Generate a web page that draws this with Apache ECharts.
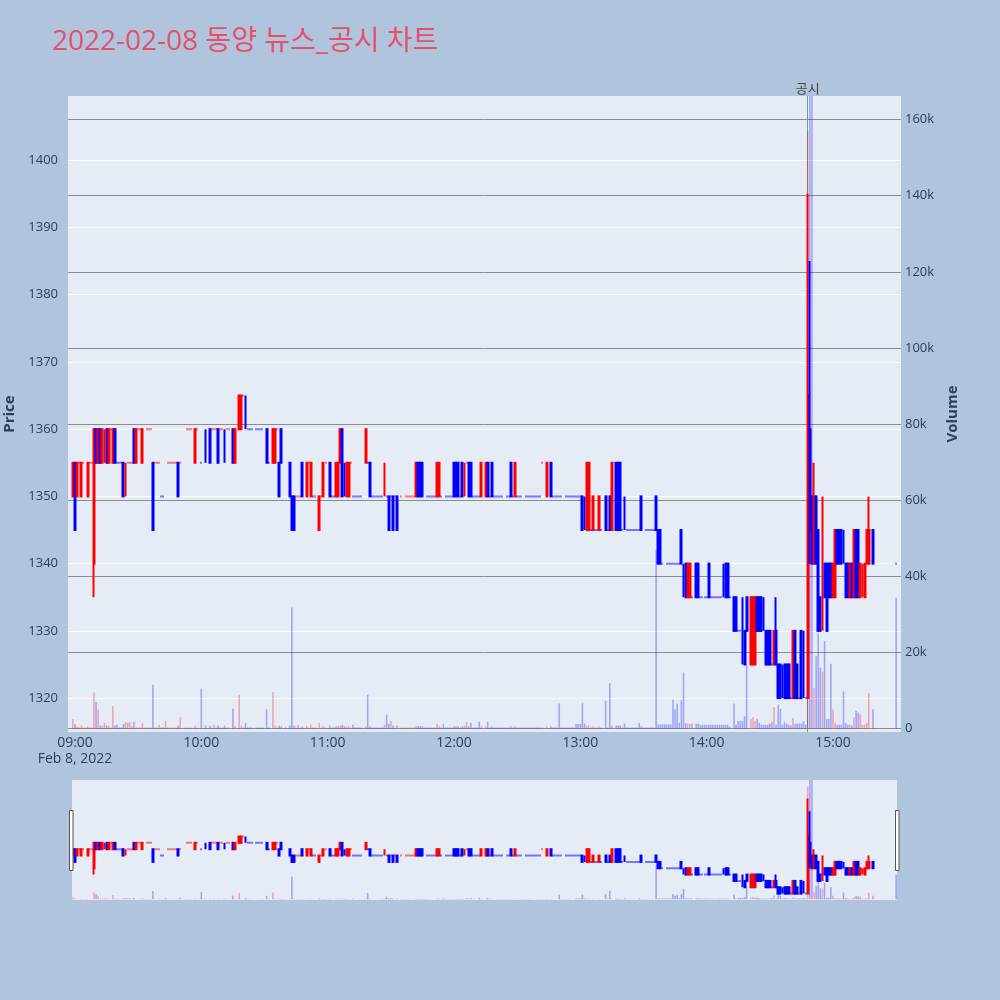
<!DOCTYPE html>
<html>
<head>
<meta charset="utf-8">
<script src="https://cdn.jsdelivr.net/npm/echarts@6/dist/echarts.min.js"></script>
<style>
html,body{margin:0;padding:0;background:#b0c4de;}
#chart{width:1000px;height:1000px;}
</style>
</head>
<body>
<div id="chart"></div>
<script>
// ---------------- DATA ----------------
const chartTitle = '2022-02-08 동양 뉴스_공시 차트';
const dateLabel = 'Feb 8, 2022';
// minutes after 09:00 (one candle per traded minute)
const minutes = [
  -1,0,1,2,3,4,5,6,7,8,9,10,11,12,13,14,15,16,
  17,18,19,20,21,22,23,24,25,26,27,28,29,30,31,32,33,34,35,36,
  37,38,39,40,41,42,43,44,45,46,47,48,49,50,52,53,54,55,57,58,
  60,62,64,65,66,67,68,69,70,71,72,73,75,76,78,79,80,81,82,83,84,
  86,87,88,89,91,92,94,95,96,97,98,100,102,103,104,105,106,107,108,
  110,111,112,113,114,116,117,118,119,121,122,123,124,125,126,127,128,129,130,131,132,133,134,135,136,
  138,139,140,141,142,143,144,145,146,147,148,149,150,151,152,153,155,156,157,158,159,160,161,162,163,164,165,166,
  167,168,169,170,171,172,173,174,175,176,177,178,179,180,181,182,183,184,185,186,187,188,189,190,191,192,193,195,196,197,198,
  199,200,201,202,203,204,205,206,207,208,209,210,211,212,213,214,215,216,217,218,219,220,221,222,224,226,227,228,229,230,231,232,233,234,235,236,237,238,239,240,
  241,242,243,244,245,246,247,248,249,250,252,253,254,255,257,258,259,260,261,262,263,264,265,266,267,268,269,270,271,272,273,274,275,276,277,278,279,280,281,282,283,284,285,286,287,288,289,290,
  291,292,293,295,296,297,298,299,300,301,302,303,304,305,306,307,308,309,310,311,313,314,315,316,317,318,319,321,322,323,324,325,326,327,328,329,330,331,332,333,334,335,336,337,338,339,340,341,342,343,344,345,346,347,
  348,349,350,351,352,353,354,355,356,357,358,359,360,361,362,363,364,365,366,367,368,369,370,371,372,373,374,375,376,377,379,390
];
const opens = [
  1350,1355,1350,1355,1350,1355,1355,1350,1355,1355,1340,1360,1355,1360,1355,1355,1360,1355,
  1360,1355,1360,1355,1355,1355,1355,1350,1355,1355,1355,1360,1355,1360,1360,1355,1360,1360,1360,1360,
  1355,1355,1355,1355,1350,1350,1355,1355,1355,1355,1355,1355,1355,1355,1360,1360,1360,1360,1355,1360,
  1355,1360,1360,1360,1360,1360,1360,1360,1360,1360,1360,1360,1360,1355,1360,1360,1365,1365,1360,1360,1360,
  1360,1360,1360,1360,1360,1355,1355,1355,1360,1355,1360,1355,1355,1350,1350,1350,1350,1350,1355,
  1350,1355,1350,1350,1350,1345,1350,1350,1355,1355,1350,1350,1350,1350,1355,1360,1355,1350,1350,1355,1350,1350,1350,1350,1350,
  1355,1355,1355,1350,1350,1350,1350,1350,1350,1350,1350,1350,1350,1350,1350,1350,1350,1350,1350,1350,1350,1350,1350,1350,1355,1355,1355,1350,
  1350,1350,1350,1350,1350,1350,1350,1350,1350,1350,1350,1350,1350,1355,1355,1355,1350,1355,1350,1355,1355,1355,1350,1350,1350,1350,1350,1350,1355,1350,1355,
  1350,1350,1350,1350,1350,1350,1350,1350,1355,1350,1350,1350,1350,1350,1350,1350,1350,1350,1350,1350,1350,1350,1350,1355,1350,1355,1350,1350,1350,1350,1350,1350,1350,1350,1350,1350,1350,1350,1350,1350,
  1350,1350,1345,1345,1345,1345,1345,1345,1345,1345,1350,1345,1350,1345,1355,1355,1355,1345,1350,1345,1345,1345,1345,1345,1345,1345,1350,1350,1345,1345,1345,1345,1345,1350,1345,1345,1340,1340,1340,1340,1340,1340,1340,1340,1340,1345,1340,1340,
  1335,1335,1335,1340,1340,1335,1335,1335,1335,1340,1335,1335,1335,1335,1335,1335,1340,1340,1340,1335,1335,1335,1330,1330,1335,1330,1335,1325,1325,1325,1335,1335,1335,1335,1330,1330,1330,1325,1325,1330,1325,1325,1325,1325,1325,1325,1320,1320,1330,1325,1320,1330,1330,1320,
  1320,1360,1350,1340,1350,1345,1335,1330,1340,1340,1340,1340,1335,1335,1345,1345,1345,1345,1340,1340,1335,1340,1335,1345,1345,1335,1335,1335,1340,1340,1345,1340
];
const closes = [
  1355,1345,1355,1355,1355,1355,1355,1355,1355,1355,1360,1355,1360,1355,1360,1360,1355,1360,
  1360,1360,1355,1355,1355,1355,1350,1355,1355,1355,1355,1355,1360,1360,1360,1360,1360,1360,1360,1360,
  1345,1355,1355,1355,1350,1350,1355,1355,1355,1355,1355,1355,1350,1355,1360,1360,1360,1360,1360,1360,
  1355,1355,1355,1360,1360,1360,1355,1360,1360,1355,1360,1360,1355,1360,1365,1365,1365,1360,1360,1360,1360,
  1360,1360,1360,1360,1355,1355,1360,1360,1360,1350,1355,1355,1350,1345,1345,1350,1350,1350,1350,
  1355,1355,1355,1350,1350,1350,1350,1355,1355,1350,1350,1350,1355,1355,1360,1350,1350,1355,1355,1355,1350,1350,1350,1350,1350,
  1360,1355,1350,1350,1350,1350,1350,1350,1350,1355,1350,1345,1350,1345,1350,1345,1350,1350,1350,1350,1350,1350,1350,1355,1350,1350,1350,1350,
  1350,1350,1350,1350,1350,1355,1355,1350,1350,1350,1350,1350,1350,1350,1350,1350,1350,1350,1355,1355,1350,1350,1350,1350,1350,1350,1355,1355,1350,1350,1350,
  1350,1350,1350,1350,1350,1350,1350,1350,1350,1350,1355,1350,1350,1350,1350,1350,1350,1350,1350,1350,1350,1350,1350,1355,1355,1350,1350,1350,1350,1350,1350,1350,1350,1350,1350,1350,1350,1350,1350,1350,
  1345,1345,1355,1355,1345,1350,1345,1345,1350,1345,1345,1345,1345,1355,1345,1345,1345,1345,1345,1345,1345,1345,1345,1345,1345,1345,1345,1350,1345,1345,1345,1345,1345,1345,1340,1340,1340,1340,1340,1340,1340,1340,1340,1340,1340,1340,1335,1335,
  1340,1340,1335,1335,1335,1335,1335,1335,1335,1335,1335,1335,1335,1335,1335,1335,1335,1335,1335,1335,1330,1330,1330,1330,1325,1325,1330,1335,1335,1335,1330,1330,1330,1330,1325,1325,1325,1325,1330,1325,1320,1320,1320,1320,1320,1320,1320,1330,1320,1320,1320,1320,1320,1320,
  1365,1345,1340,1350,1340,1330,1330,1340,1335,1330,1335,1335,1340,1345,1340,1340,1340,1340,1335,1335,1340,1335,1345,1335,1335,1340,1340,1340,1345,1345,1340,1340
];
const volumes = [
  2500,1200,600,300,800,300,300,600,300,300,9500,7000,5000,800,800,1500,800,700,
  300,5900,800,1000,300,300,1200,1700,1500,1700,600,1800,300,300,300,1500,300,300,300,300,
  11500,300,300,1000,300,300,2000,300,300,300,300,300,800,3000,300,300,300,300,800,300,
  10500,800,800,300,1000,300,800,300,300,800,300,300,5300,700,8900,800,300,1500,300,300,300,
  300,300,300,300,5000,300,9600,800,300,800,600,300,800,31800,800,300,1000,300,600,
  700,300,1000,300,300,1500,300,700,300,800,300,300,700,700,800,1000,600,600,600,300,1000,300,300,300,300,
  600,8900,600,300,300,300,300,300,300,1000,3700,1200,2000,800,300,800,300,300,300,300,300,300,300,700,600,600,600,300,
  300,300,300,300,300,1200,600,300,1200,300,300,300,300,600,600,600,300,600,700,1700,600,1500,300,300,300,1800,600,600,1800,300,600,
  300,300,300,300,300,300,300,300,600,300,600,300,300,300,300,300,300,300,300,300,300,300,300,300,600,600,300,300,300,6600,300,300,300,300,300,300,300,1200,1200,1200,
  6700,1300,800,800,300,600,300,300,600,300,7300,300,12000,800,800,800,800,300,1300,300,300,300,300,300,300,1500,600,300,300,300,300,300,300,47000,1100,1100,1100,1100,1100,1100,1100,7600,5000,6500,1500,7400,14700,1500,
  1300,1300,1300,1300,1300,1000,1000,1000,1000,1000,1000,1000,1000,1000,1000,1000,1000,1000,1000,500,6600,1000,2000,2000,2000,3200,16600,2500,3000,2000,2500,1500,1000,1000,1000,1000,1300,1700,5600,1000,6300,5200,1000,1700,1300,1000,800,2800,1300,1300,1300,1300,2000,1000,
  157000,190000,175000,10600,19000,25000,16000,15000,23000,2500,2500,17000,5000,1500,1000,1000,1000,9700,1500,1000,1000,800,3000,4700,4200,3700,1000,1000,1500,9300,5000,34400
];
// candles whose wick extends beyond the body
const wickMinutes = [9, 333, 348, 349, 351, 355, 377];
const wickLows    = [1335, 1325, 1320, 1340, 1340, 1330, 1340];
const wickHighs   = [1360, 1335, 1395, 1385, 1355, 1350, 1350];
// disclosure (공시) marker
const disclosureMinute = 348;
const disclosureLabel = '공시';
// ticks
const timeTicks  = [0, 60, 120, 180, 240, 300, 360];
const timeLabels = ['09:00','10:00','11:00','12:00','13:00','14:00','15:00'];
const priceTicks = [1320,1330,1340,1350,1360,1370,1380,1390,1400];
const volTicks   = [0,20000,40000,60000,80000,100000,120000,140000,160000];
const volLabels  = ['0','20k','40k','60k','80k','100k','120k','140k','160k'];

// ---------------- BUILD ----------------
const UP = '#ff0000', DOWN = '#0000ff';
const UP_V = 'rgba(255,0,0,0.3)', DOWN_V = 'rgba(0,0,255,0.3)';
const candleData = [], volData = [];
let prevClose = null, prevDir = 1;
for (let i = 0; i < minutes.length; i++) {
  const o = opens[i], c = closes[i];
  let dir;
  if (c > o) dir = 1; else if (c < o) dir = -1;
  else if (prevClose === null) dir = 1;
  else dir = c > prevClose ? 1 : (c < prevClose ? -1 : prevDir);
  prevDir = dir; prevClose = c;
  const w = wickMinutes.indexOf(minutes[i]);
  const lo = w >= 0 ? wickLows[w] : Math.min(o, c);
  const hi = w >= 0 ? wickHighs[w] : Math.max(o, c);
  const col = dir > 0 ? UP : DOWN;
  candleData.push({ value: [minutes[i], o, c, lo, hi],
    itemStyle: { color: col, color0: col, borderColor: col, borderColor0: col, borderColorDoji: col } });
  volData.push({ value: [minutes[i], volumes[i]],
    itemStyle: { color: dir > 0 ? UP_V : DOWN_V } });
}

const X_MIN = -3.32, X_MAX = 392.3;
const P_MIN = 1314.96, P_MAX = 1409.55;
const V_MIN = -900, V_MAX = 166200;
const FONT = "'Open Sans', 'Noto Sans CJK KR', sans-serif";
const TXT = '#2a3f5f';

const chart = echarts.init(document.getElementById('chart'), null, { renderer: 'canvas' });
chart.setOption({
  animation: false,
  backgroundColor: '#b0c4de',
  textStyle: { fontFamily: FONT },
  title: {
    text: chartTitle, left: 47, top: 23,
    textStyle: { fontSize: 28, fontWeight: 'normal', color: '#e84e66', fontFamily: FONT }
  },
  grid: [
    { left: 68, right: 99, top: 96, height: 636, show: true, backgroundColor: '#e5ecf6', borderWidth: 0,
      containLabel: false, outerBoundsMode: 'none' },
    { left: 68, right: 99, top: 780, height: 120, show: false, containLabel: false, outerBoundsMode: 'none' }
  ],
  xAxis: [
    { type: 'value', gridIndex: 0, min: X_MIN, max: X_MAX,
      axisLine: { show: false }, axisTick: { show: false, customValues: timeTicks }, splitLine: { show: false },
      axisLabel: { customValues: timeTicks, color: TXT, fontSize: 14, margin: 3, lineHeight: 16,
        formatter: v => { const k = timeTicks.indexOf(v); const s = k >= 0 ? timeLabels[k] : '';
          return v === timeTicks[0] ? s + '\n' + dateLabel : s; } } },
    { type: 'value', gridIndex: 1, min: X_MIN, max: X_MAX, show: false }
  ],
  yAxis: [
    { type: 'value', gridIndex: 0, position: 'left', min: P_MIN, max: P_MAX,
      name: 'Price', nameLocation: 'middle', nameGap: 46,
      nameTextStyle: { fontWeight: 'bold', fontSize: 15, color: TXT },
      axisLine: { show: false }, axisTick: { show: false, customValues: priceTicks },
      axisLabel: { customValues: priceTicks, color: TXT, fontSize: 13, margin: 10,
        formatter: v => String(v) },
      splitLine: { show: true, lineStyle: { color: '#ffffff', width: 1 } } },
    { type: 'value', gridIndex: 0, position: 'right', min: V_MIN, max: V_MAX,
      name: 'Volume', nameLocation: 'middle', nameGap: 44,
      nameTextStyle: { fontWeight: 'bold', fontSize: 15, color: TXT },
      axisLine: { show: false }, axisTick: { show: false, customValues: volTicks },
      axisLabel: { customValues: volTicks, color: TXT, fontSize: 13, margin: 4,
        formatter: v => { const k = volTicks.indexOf(v); return k >= 0 ? volLabels[k] : ''; } },
      splitLine: { show: true, lineStyle: { color: '#8c8c8c', width: 1 } } },
    { type: 'value', gridIndex: 1, min: P_MIN, max: P_MAX, show: false, splitLine: { show: false } },
    { type: 'value', gridIndex: 1, min: V_MIN, max: V_MAX, show: false, splitLine: { show: false } }
  ],
  graphic: [
    { type: 'rect', z: 0, silent: true, shape: { x: 72, y: 780, width: 825, height: 120 }, style: { fill: '#e5ecf6' } },
    { type: 'rect', z: 100, silent: true, shape: { x: 69.5, y: 810.5, width: 3.5, height: 60 }, style: { fill: '#ffffff', stroke: '#555', lineWidth: 1 } },
    { type: 'rect', z: 100, silent: true, shape: { x: 895.5, y: 810.5, width: 3.5, height: 60 }, style: { fill: '#ffffff', stroke: '#555', lineWidth: 1 } }
  ],
  series: [
    { type: 'bar', name: 'vol', xAxisIndex: 0, yAxisIndex: 1, data: volData, barWidth: 1.6, z: 2, clip: true,
      markLine: { silent: true, symbol: ['none', 'none'], animation: false, z: 1,
        lineStyle: { color: '#6aaa5a', width: 1, type: 'solid' },
        label: { show: true, position: 'end', formatter: disclosureLabel, color: '#444', fontSize: 13, distance: 0, fontFamily: FONT },
        data: [{ xAxis: disclosureMinute }] } },
    { type: 'candlestick', name: 'price', xAxisIndex: 0, yAxisIndex: 0, data: candleData,
      encode: { x: 0, y: [1, 2, 3, 4] }, barWidth: 1.4, z: 3, clip: true,
      itemStyle: { borderWidth: 2 } },
    { type: 'bar', name: 'vol2', xAxisIndex: 1, yAxisIndex: 3, data: volData, barWidth: 1.6, z: 2, clip: true },
    { type: 'candlestick', name: 'price2', xAxisIndex: 1, yAxisIndex: 2, data: candleData,
      encode: { x: 0, y: [1, 2, 3, 4] }, barWidth: 1.4, z: 3, clip: true,
      itemStyle: { borderWidth: 2 } }
  ]
});
</script>
</body>
</html>
